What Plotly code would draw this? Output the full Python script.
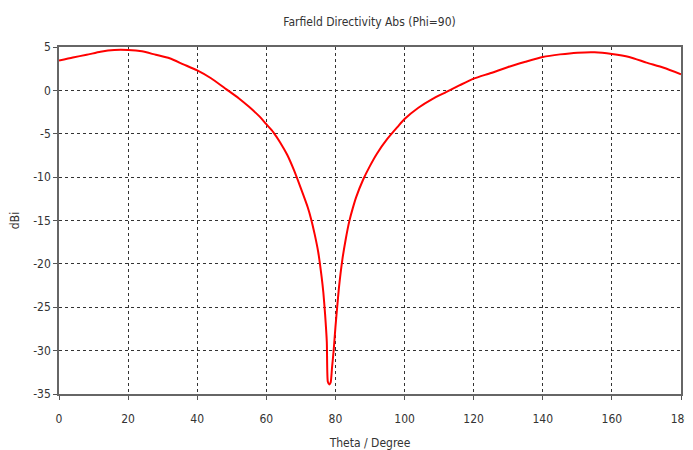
import plotly.graph_objects as go

theta = [0, 4, 8, 12, 16, 20, 24, 28, 32, 36, 40, 44, 48, 52, 55, 58, 60, 62, 64, 66,
         68, 70, 72, 73, 74, 75, 76, 76.5, 77, 77.5, 77.8, 78.2, 78.6, 79, 79.5, 80, 80.5,
         81, 82, 83, 84, 85, 86, 88, 90,
         92, 95, 98, 100, 104, 108, 112, 116, 120, 125, 130, 135, 140, 145, 150, 155,
         160, 165, 170, 175, 180]
directivity = [3.45, 3.8, 4.1, 4.45, 4.65, 4.65, 4.5, 4.1, 3.7, 3.0, 2.3, 1.4, 0.25, -0.9,
               -1.9, -3.0, -3.9, -4.8, -6.0, -7.4, -9.2, -11.3, -13.5, -14.9, -16.6, -18.6,
               -21.5, -23.3, -25.8, -29.0, -33.6, -33.9, -33.7, -32.0, -29.9, -27.3, -25.0,
               -22.8, -19.5, -17.1, -15.1, -13.6, -12.3, -10.3, -8.7,
               -7.3, -5.6, -4.2, -3.3, -2.0, -1.0, -0.2, 0.6, 1.35, 2.0, 2.7,
               3.3, 3.85, 4.15, 4.35, 4.4, 4.2, 3.85, 3.2, 2.6, 1.85]
x_ticks = [0, 20, 40, 60, 80, 100, 120, 140, 160, 180]
y_ticks = [5, 0, -5, -10, -15, -20, -25, -30, -35]

FONT = "DejaVu Sans Condensed, Liberation Sans Narrow, Arial, sans-serif"
TXT = "#333333"
W, H = 685, 442  # page body has an 8px margin; figure reaches the window edge

fig = go.Figure()
fig.add_trace(go.Scatter(x=theta, y=directivity, mode="lines",
                         line=dict(color="#ff0000", width=2, shape="spline", smoothing=0.6),
                         showlegend=False))

axis_common = dict(
    showgrid=True, gridcolor="#333333", griddash="dot", gridwidth=1,
    showline=True, linecolor="#666666", linewidth=1.5, mirror=True,
    ticks="outside", ticklen=4, tickcolor="#555555",
    tickfont=dict(family=FONT, size=12, color=TXT),
    zeroline=False, automargin=False,
)

fig.update_layout(
    width=W, height=H,
    margin=dict(l=50.5, r=12.3, t=38.7, b=56, autoexpand=False),
    paper_bgcolor="white", plot_bgcolor="white",
    title=dict(text="Farfield Directivity Abs (Phi=90)", x=361.6 / W, xanchor="center",
               y=1 - 14 / H, yanchor="middle",
               font=dict(family=FONT, size=12, color=TXT)),
    xaxis=dict(range=[0, 180], tickvals=x_ticks, ticktext=[str(v) for v in x_ticks],
               ticklabelstandoff=9,
               title=dict(text="Theta / Degree", standoff=22,
                          font=dict(family=FONT, size=12, color=TXT)),
               **axis_common),
    yaxis=dict(range=[-35, 5], tickvals=y_ticks, ticktext=[str(v) for v in y_ticks],
               title=dict(text="dBi", standoff=11,
                          font=dict(family=FONT, size=12, color=TXT)),
               **axis_common),
)

fig.write_html("out.html")
